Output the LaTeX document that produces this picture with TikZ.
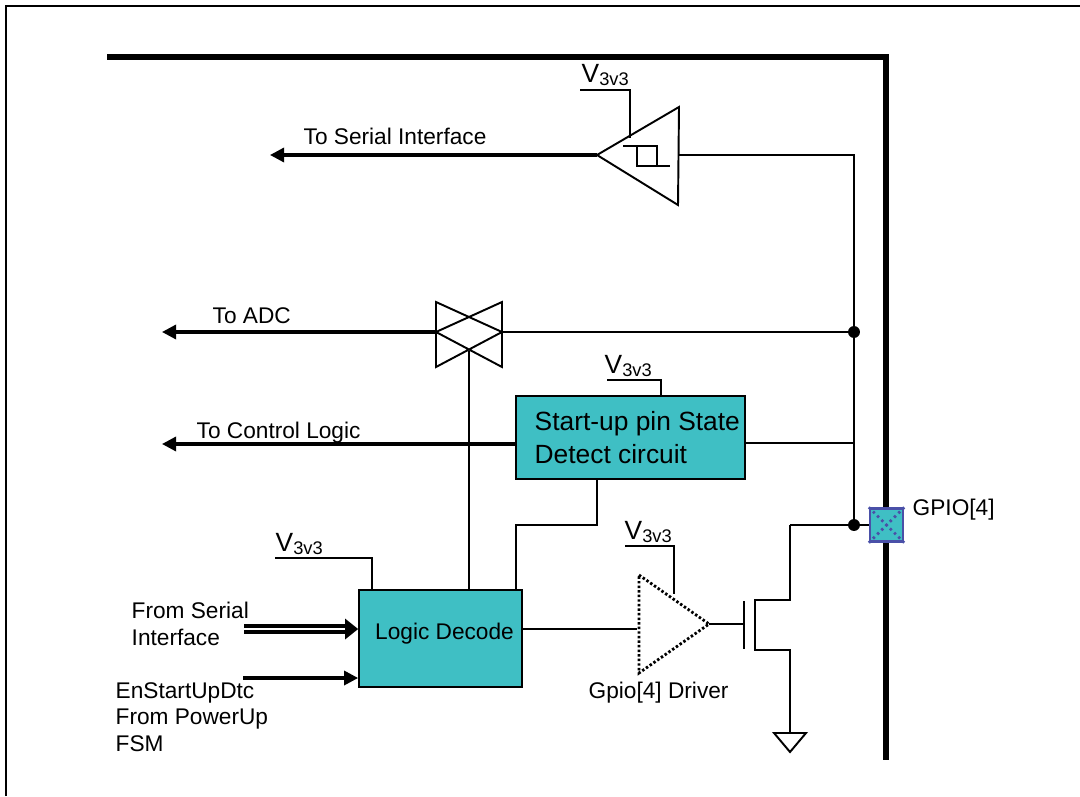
\documentclass[tikz,border=0pt]{standalone}
\usepackage{fontspec}
\setmainfont{Liberation Sans}
\usetikzlibrary{arrows.meta}
\definecolor{teal}{HTML}{3FBFC4}
\definecolor{padblue}{HTML}{4A50A8}
\tikzset{
  every picture/.style={line join=miter, >=Stealth},
  wire/.style={line width=0.4pt},
  bus/.style={line width=0.9pt,-{Stealth[length=4pt,width=4pt,inset=0pt]}},
  rail/.style={line width=1.9pt},
  gate/.style={line width=0.55pt},
  block/.style={draw,fill=teal,line width=0.5pt,inner sep=0pt},
  label/.style={font=\fontsize{6.45}{7.5}\selectfont,inner sep=0pt,align=left},
  blocklabel/.style={font=\fontsize{7.5}{9.4}\selectfont,inner sep=0pt,align=left},
  vddlabel/.style={font=\fontsize{7.5}{9}\selectfont,inner sep=0pt,anchor=base west},
  junction/.style={circle,fill=black,inner sep=0pt,minimum size=3.4pt},
}
\newcommand{\vddtext}{V\raisebox{-1pt}{\fontsize{5.2}{6}\selectfont 3v3}}
\begin{document}
\begin{tikzpicture}
\useasboundingbox (0,0) rectangle (10.8,7.96);
% sheet outline and chip edge
\draw[line width=0.65pt] (0.06,0)--(0.06,7.90)--(10.8,7.90);
\draw[rail] (1.07,7.39)--(8.86,7.39)--(8.86,0.36);
% junctions and pad
\node[junction] (dotadc) at (8.54,4.64) {};
\node[junction] (dotpad) at (8.54,2.71) {};
\node[draw=padblue,fill=teal,line width=0.7pt,minimum size=0.33cm,inner sep=0pt] (pad) at (8.865,2.71) {};
\draw[padblue,line width=0.8pt,dash pattern=on 0.7pt off 1pt] (pad.north west)--(pad.south east);
\draw[padblue,line width=0.8pt,dash pattern=on 0.7pt off 1pt] (pad.north east)--(pad.south west);
\node[label,anchor=west] (padname) at (9.12,2.86) {GPIO[4]};
% input buffer
\coordinate (buftip) at (5.97,6.41);
\coordinate (bufout) at (6.79,6.41);
\draw[gate] (buftip)--(6.79,6.89)--(6.78,5.91)--cycle;
\draw[gate] (6.23,6.50)--(6.57,6.50)--(6.57,6.30);
\draw[gate] (6.37,6.50)--(6.37,6.30)--(6.70,6.30);
\draw[wire] (5.80,7.06)--(6.30,7.06)--(6.30,6.58);
\node[vddlabel] (vddbuf) at (5.81,7.14) {\vddtext};
\draw[bus] (buftip)--(2.70,6.41);
\node[label,anchor=base west] (toserial) at (3.03,6.52) {To Serial Interface};
\draw[wire] (bufout)--(8.54,6.41)--(dotadc.center);
\draw[wire] (dotadc.center)--(dotpad.center);
\draw[wire] (dotpad.center)--(pad.west);
% analog switch
\coordinate (swleft) at (4.36,4.64);
\coordinate (swright) at (5.02,4.64);
\coordinate (swctrl) at (4.69,4.45);
\draw[gate] (4.36,4.94)--(swright)--(5.02,4.94)--(swleft)--cycle;
\draw[gate] (swleft)--(5.02,4.29)--(swright)--(4.36,4.29)--cycle;
\draw[bus] (swleft)--(1.62,4.64);
\node[label,anchor=base west] (toadc) at (2.12,4.73) {To ADC};
\draw[wire] (swright)--(dotadc.center);
% start-up detect
\node[block,minimum width=2.29cm,minimum height=0.83cm] (detect) at (6.305,3.585) {};
\node[blocklabel,anchor=west] (detecttext) at (5.34,3.58) {Start-up pin State\\Detect circuit};
\draw[wire] (6.07,4.16)--(6.61,4.16)--(detect.north -| 6.61,0);
\node[vddlabel] (vdddetect) at (6.04,4.23) {\vddtext};
\draw[bus] (detect.west |- 0,3.52)--(1.62,3.52);
\node[label,anchor=base west] (tocontrol) at (1.96,3.58) {To Control Logic};
\draw[wire] (detect.east |- 0,3.53)--(8.54,3.53);
% logic decode
\node[block,minimum width=1.63cm,minimum height=0.97cm] (decode) at (4.405,1.575) {};
\node[label] (decodetext) at (4.445,1.62) {Logic Decode};
\draw[wire] (decode.north -| swctrl)--(swctrl);
\draw[wire] (decode.north -| 5.16,0)--(5.16,2.71)--(5.97,2.71)--(detect.south -| 5.97,0);
\draw[wire] (2.75,2.38)--(3.72,2.38)--(decode.north -| 3.72,0);
\node[vddlabel] (vdddecode) at (2.75,2.45) {\vddtext};
\node[label,anchor=west] (fromserial) at (1.31,1.72) {From Serial\\Interface};
\node[label,anchor=west] (enstart) at (1.15,0.79) {EnStartUpDtc\\From PowerUp\\FSM};
\draw[line width=0.9pt] (2.44,1.70)--(3.48,1.70);
\draw[line width=0.9pt] (2.44,1.64)--(3.48,1.64);
\fill (3.45,1.775)--(decode.west |- 0,1.67)--(3.45,1.565)--cycle;
\draw[bus] (2.43,1.18)--(decode.west |- 0,1.18);
% driver and output device
\coordinate (drvtip) at (7.09,1.72);
\draw[line width=0.8pt,dash pattern=on 0.7pt off 0.6pt] (6.39,2.21)--(drvtip)--(6.39,1.23)--cycle;
\draw[wire] (decode.east |- 0,1.67)--(6.37,1.67);
\draw[wire] (6.25,2.50)--(6.74,2.50)--(6.74,2.02);
\node[vddlabel] (vdddrv) at (6.24,2.57) {\vddtext};
\node[label,anchor=base west] (drvname) at (5.88,0.98) {Gpio[4] Driver};
\draw[gate] (drvtip)--(7.44,1.72);
\draw[gate] (7.44,1.95)--(7.44,1.47);
\draw[gate] (7.90,2.71)--(dotpad.center);
\draw[gate] (7.90,2.71)--(7.90,1.96)--(7.55,1.96)--(7.55,1.46)--(7.90,1.46)--(7.90,0.63);
\draw[gate] (7.74,0.63)--(8.06,0.63)--(7.90,0.44)--cycle;
\end{tikzpicture}
\end{document}
